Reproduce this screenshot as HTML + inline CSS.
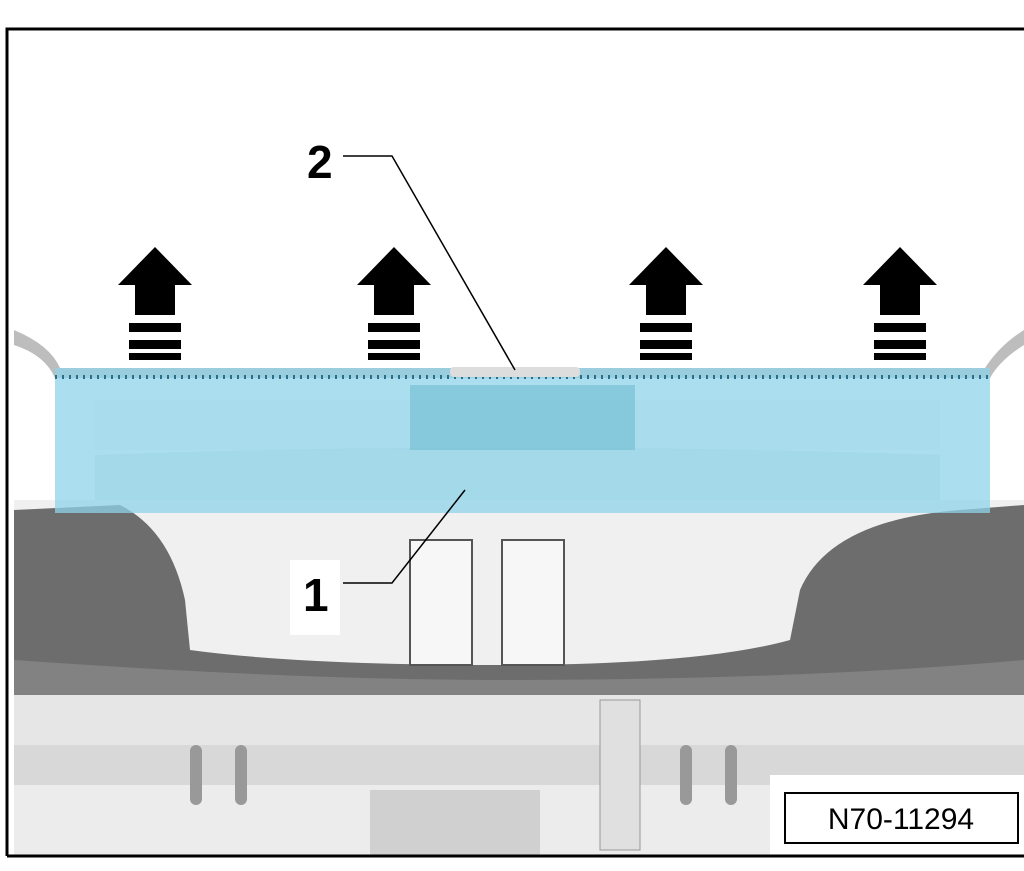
<!DOCTYPE html>
<html><head><style>
html,body{margin:0;padding:0;background:#fff;width:1024px;height:871px;overflow:hidden}
</style></head><body>
<svg width="1024" height="871" viewBox="0 0 1024 871" xmlns="http://www.w3.org/2000/svg" font-family="Liberation Sans, sans-serif">
<rect x="0" y="0" width="1024" height="871" fill="#fff"/>
<!-- lower body background -->
<rect x="14" y="500" width="1010" height="355" fill="#f0f0f0"/>
<!-- top cowl curve -->
<path d="M14 330 Q50 345 60 368 L985 368 Q1000 345 1024 330 L1024 345 Q1000 360 990 378 L55 378 Q45 355 14 345 Z" fill="#bdbdbd"/>
<!-- dark gray body -->
<path d="M14 510 L120 505 Q170 530 185 600 L190 650 Q300 665 500 665 Q700 665 790 640 L800 590 Q830 520 960 510 L1024 505 L1024 690 Q900 700 800 700 L14 700 Z" fill="#6d6d6d"/>
<path d="M14 660 Q300 680 500 680 Q800 680 1024 660 L1024 700 L14 700 Z" fill="#828282"/>
<rect x="410" y="540" width="62" height="125" fill="#f7f7f7" stroke="#555" stroke-width="2"/>
<rect x="502" y="540" width="62" height="125" fill="#f7f7f7" stroke="#555" stroke-width="2"/>
<!-- lower cross member -->
<rect x="14" y="695" width="1010" height="50" fill="#e6e6e6"/>
<rect x="14" y="745" width="1010" height="40" fill="#d8d8d8"/>
<rect x="14" y="785" width="1010" height="70" fill="#ececec"/>
<rect x="370" y="790" width="170" height="65" fill="#d0d0d0"/>
<rect x="600" y="700" width="40" height="150" fill="#e0e0e0" stroke="#999"/>
<g fill="#999">
<rect x="190" y="745" width="12" height="60" rx="6"/><rect x="235" y="745" width="12" height="60" rx="6"/>
<rect x="680" y="745" width="12" height="60" rx="6"/><rect x="725" y="745" width="12" height="60" rx="6"/>
</g>
<!-- blue panel -->
<rect x="55" y="368" width="935" height="145" fill="#8fd3e8" opacity="0.75"/>
<path d="M95 400 L940 400 L940 450 L95 450 Z" fill="#a8dcec" opacity="0.7"/>
<path d="M95 455 Q500 440 940 455 L940 500 L95 500 Z" fill="#9fd5e6" opacity="0.6"/>
<rect x="410" y="385" width="225" height="65" fill="#6fbcd2" opacity="0.6"/>
<line x1="55" y1="377" x2="990" y2="377" stroke="#2a6f8a" stroke-width="4" stroke-dasharray="2 5"/>
<rect x="450" y="367" width="130" height="10" rx="4" fill="#ddd"/>
<!-- arrows -->
<g fill="#000">
<g transform="translate(155,0)"><polygon points="-37,285 0,247 37,285 20,285 20,315 -20,315 -20,285"/><rect x="-26" y="323" width="52" height="9"/><rect x="-26" y="340" width="52" height="9"/><rect x="-26" y="353" width="52" height="7"/></g>
<g transform="translate(394,0)"><polygon points="-37,285 0,247 37,285 20,285 20,315 -20,315 -20,285"/><rect x="-26" y="323" width="52" height="9"/><rect x="-26" y="340" width="52" height="9"/><rect x="-26" y="353" width="52" height="7"/></g>
<g transform="translate(666,0)"><polygon points="-37,285 0,247 37,285 20,285 20,315 -20,315 -20,285"/><rect x="-26" y="323" width="52" height="9"/><rect x="-26" y="340" width="52" height="9"/><rect x="-26" y="353" width="52" height="7"/></g>
<g transform="translate(900,0)"><polygon points="-37,285 0,247 37,285 20,285 20,315 -20,315 -20,285"/><rect x="-26" y="323" width="52" height="9"/><rect x="-26" y="340" width="52" height="9"/><rect x="-26" y="353" width="52" height="7"/></g>
</g>
<!-- labels -->
<text x="307" y="178" font-size="46" font-weight="bold">2</text>
<polyline points="343,156 392,156 515,370" fill="none" stroke="#000" stroke-width="1.5"/>
<rect x="290" y="560" width="50" height="75" fill="#fff"/>
<text x="303" y="611" font-size="46" font-weight="bold">1</text>
<polyline points="343,583 392,583 465,490" fill="none" stroke="#000" stroke-width="1.5"/>
<!-- id box -->
<rect x="770" y="775" width="254" height="82" fill="#fff"/>
<rect x="785" y="793" width="233" height="50" fill="#fff" stroke="#000" stroke-width="2"/>
<text x="901" y="829" font-size="30" text-anchor="middle">N70-11294</text>
<!-- frame -->
<path d="M7 856 L7 29 L1024 29" fill="none" stroke="#000" stroke-width="3"/>
<line x1="7" y1="856" x2="1024" y2="856" stroke="#000" stroke-width="3"/>
</svg>
</body></html>
